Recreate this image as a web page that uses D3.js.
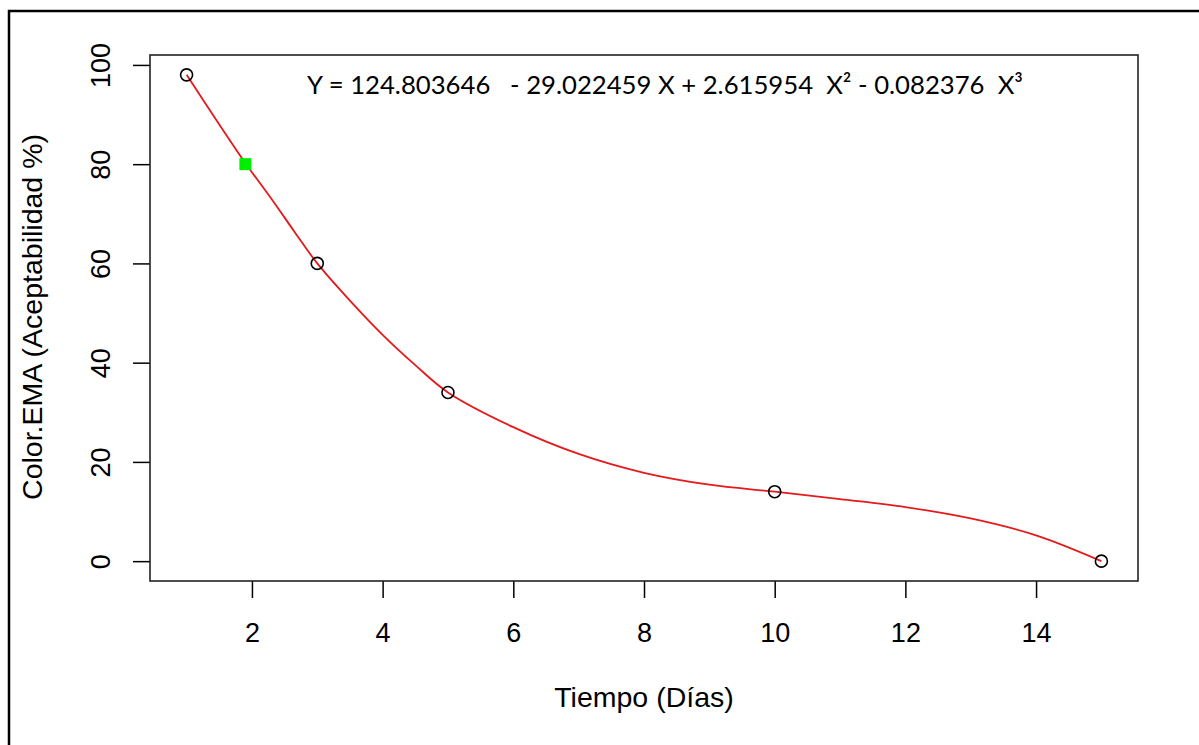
<!DOCTYPE html>
<html lang="en">
<head>
<meta charset="UTF-8">
<title>Color.EMA vs Tiempo</title>
<script src="https://d3js.org/d3.v7.min.js"></script>
<style>
  body { margin: 0; background: #fff; }
  text { font-family: "Liberation Sans", Arial, sans-serif; fill: #000; }
</style>
</head>
<body>
<div id="chart"></div>
<script>
// observed points
const dias = [1, 3, 5, 10, 15];
const aceptabilidad = [98, 60, 34, 14, 0];

// fitted curve
const curveX = [1, 1.25, 1.5, 1.9, 2.3, 2.65, 3, 3.5, 4, 4.5, 5, 6, 7, 8, 9, 10, 11, 12, 13, 14, 15];
const curveY = [98, 93, 88, 80.2, 73, 66.4, 60, 52.5, 45.6, 39.5, 34, 27, 21.6, 17.8, 15.4, 14, 12.5, 10.9, 8.6, 5.2, 0];

// highlighted point (green square)
const markX = [1.9];
const markY = [80];

const xTicks = [2, 4, 6, 8, 10, 12, 14];
const yTicks = [0, 20, 40, 60, 80, 100];

const W = 1199, H = 745;
const box = { left: 150, right: 1138, top: 55, bottom: 581 };

const svg = d3.select('#chart').append('svg')
  .attr('width', W).attr('height', H);

// outer frame (runs off the right and bottom edge)
svg.append('rect')
  .attr('x', 9).attr('y', 11)
  .attr('width', W + 20).attr('height', H + 20)
  .attr('fill', 'none').attr('stroke', '#000').attr('stroke-width', 2.5);

const x = d3.scaleLinear().domain([0.44, 15.56]).range([box.left, box.right]);
const y = d3.scaleLinear().domain([-4, 102]).range([box.bottom, box.top]);

// axes
const xAxis = svg.append('g')
  .attr('transform', `translate(0,${box.bottom})`)
  .call(d3.axisBottom(x).tickValues(xTicks).tickSize(17).tickSizeOuter(0).tickPadding(0));
xAxis.select('.domain').remove();
xAxis.selectAll('line').attr('stroke', '#000').attr('stroke-width', 1.5);
xAxis.selectAll('text')
  .attr('y', 61).attr('dy', null)
  .style('font-size', '27px').style('font-family', '"Liberation Sans", Arial, sans-serif').attr('fill', '#000');

const yAxis = svg.append('g')
  .attr('transform', `translate(${box.left},0)`)
  .call(d3.axisLeft(y).tickValues(yTicks).tickSize(17).tickSizeOuter(0));
yAxis.select('.domain').remove();
yAxis.selectAll('line').attr('stroke', '#000').attr('stroke-width', 1.5);
yAxis.selectAll('text')
  .attr('x', null).attr('dy', null)
  .attr('transform', 'translate(-40,0) rotate(-90)')
  .attr('text-anchor', 'middle')
  .style('font-size', '27px').style('font-family', '"Liberation Sans", Arial, sans-serif').attr('fill', '#000');

// plot box
svg.append('rect')
  .attr('x', box.left).attr('y', box.top)
  .attr('width', box.right - box.left).attr('height', box.bottom - box.top)
  .attr('fill', 'none').attr('stroke', '#222').attr('stroke-width', 1.6);

// fitted curve
const curvePts = curveX.map((d, i) => [d, curveY[i]]);
svg.append('path')
  .datum(curvePts)
  .attr('d', d3.line().x(d => x(d[0])).y(d => y(d[1])).curve(d3.curveCatmullRom.alpha(0.5)))
  .attr('fill', 'none').attr('stroke', '#e41a1c').attr('stroke-width', 1.8);

// points
svg.selectAll('circle.pt')
  .data(dias.map((d, i) => [d, aceptabilidad[i]]))
  .enter().append('circle')
  .attr('class', 'pt')
  .attr('cx', d => x(d[0])).attr('cy', d => y(d[1]))
  .attr('r', 6)
  .attr('fill', 'none').attr('stroke', '#000').attr('stroke-width', 1.6);

svg.selectAll('rect.mark')
  .data(markX.map((d, i) => [d, markY[i]]))
  .enter().append('rect')
  .attr('class', 'mark')
  .attr('x', d => x(d[0]) - 6).attr('y', d => y(d[1]) - 6)
  .attr('width', 12).attr('height', 12)
  .attr('fill', '#00ee00');

// equation
svg.append('text')
  .attr('x', 665).attr('y', 94)
  .attr('text-anchor', 'middle')
  .style('font-family', 'Lato, "Open Sans", sans-serif')
  .style('font-size', '25.7px')
  .style('white-space', 'pre')
  .text('Y = 124.803646   - 29.022459 X + 2.615954  X\u00b2 - 0.082376  X\u00b3');

// axis titles
svg.append('text')
  .attr('x', 644).attr('y', 707)
  .attr('text-anchor', 'middle')
  .style('font-size', '28.5px')
  .text('Tiempo (Días)');

svg.append('text')
  .attr('transform', `translate(42,317) rotate(-90)`)
  .attr('text-anchor', 'middle')
  .style('font-size', '28.5px')
  .text('Color.EMA (Aceptabilidad %)');
</script>
</body>
</html>
